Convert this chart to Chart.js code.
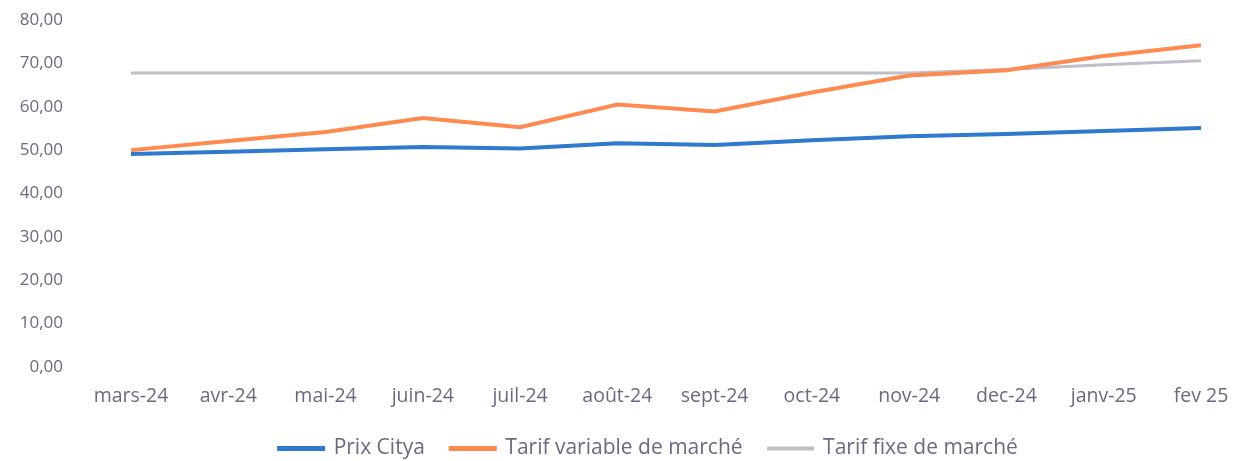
<!DOCTYPE html>
<html>
<head>
<meta charset="utf-8">
<script src="https://cdn.jsdelivr.net/npm/chart.js@4.4.1/dist/chart.umd.min.js"></script>
<style>
  html, body { margin: 0; padding: 0; background: #fff; }
  #wrap { width: 1237px; height: 461px; position: relative; }
</style>
</head>
<body>
<div id="wrap"><canvas id="chart"></canvas></div>
<script>
// Data
const months = ['mars-24', 'avr-24', 'mai-24', 'juin-24', 'juil-24', 'août-24', 'sept-24', 'oct-24', 'nov-24', 'dec-24', 'janv-25', 'fev 25'];
const prixCitya = [49.1, 49.6, 50.2, 50.7, 50.4, 51.6, 51.2, 52.3, 53.2, 53.7, 54.4, 55.1];
const tarifVariable = [50.0, 52.1, 54.2, 57.4, 55.3, 60.5, 58.9, 63.3, 67.2, 68.4, 71.7, 74.2];
const tarifFixe = [67.8, 67.8, 67.8, 67.8, 67.8, 67.8, 67.8, 67.8, 67.8, 68.6, 69.7, 70.6];
const yTicks = [0, 10, 20, 30, 40, 50, 60, 70, 80];

const textColor = '#6b6980';
const fontFamily = '"Open Sans", Lato, sans-serif';

// the legend sits a little right of centre in the original
const legendShift = {
    id: 'legendShift',
    afterLayout: function(chart) {
        if (chart.legend) {
            chart.legend.left += 30;
            chart.legend.right += 30;
        }
    }
};

const ctx = document.getElementById('chart').getContext('2d');
new Chart(ctx, {
    type: 'line',
    data: {
        labels: months,
        datasets: [{
            label: 'Prix Citya',
            data: prixCitya,
            borderColor: '#2f79cf',
            backgroundColor: '#2f79cf',
            borderWidth: 4,
            pointRadius: 0,
            tension: 0
        }, {
            label: 'Tarif variable de marché',
            data: tarifVariable,
            borderColor: '#ff8a50',
            backgroundColor: '#ff8a50',
            borderWidth: 4,
            pointRadius: 0,
            tension: 0
        }, {
            label: 'Tarif fixe de marché',
            data: tarifFixe,
            borderColor: '#c0bec8',
            backgroundColor: '#c0bec8',
            borderWidth: 3,
            pointRadius: 0,
            tension: 0
        }]
    },
    options: {
        responsive: true,
        maintainAspectRatio: false,
        animation: false,
        layout: {
            padding: { top: 20, right: 0, bottom: -8, left: 0 }
        },
        scales: {
            x: {
                offset: false,
                afterFit: function(scale) {
                    scale.height = 45;
                    scale.paddingLeft = 0;
                    scale.paddingRight = 36;
                },
                grid: { display: false, drawTicks: false },
                border: { display: false },
                ticks: {
                    color: textColor,
                    padding: 18,
                    maxRotation: 0,
                    autoSkip: false,
                    font: { family: fontFamily, size: 19.5 }
                }
            },
            y: {
                min: 0,
                max: 80,
                afterBuildTicks: function(scale) {
                    scale.ticks = yTicks.map(v => ({ value: v }));
                },
                afterFit: function(scale) {
                    scale.width = 131;
                    scale.paddingTop = 0;
                    scale.paddingBottom = 0;
                },
                grid: { display: false, drawTicks: false },
                border: { display: false },
                ticks: {
                    color: textColor,
                    padding: 68,
                    font: { family: fontFamily, size: 17 },
                    callback: function(value) {
                        return value.toFixed(2).replace('.', ',');
                    }
                }
            }
        },
        plugins: {
            legend: {
                display: true,
                position: 'bottom',
                labels: {
                    color: textColor,
                    boxWidth: 44,
                    boxHeight: 1,
                    padding: 26,
                    font: { family: fontFamily, size: 21 }
                }
            },
            tooltip: { enabled: false }
        }
    },
    plugins: [legendShift]
});
</script>
</body>
</html>
